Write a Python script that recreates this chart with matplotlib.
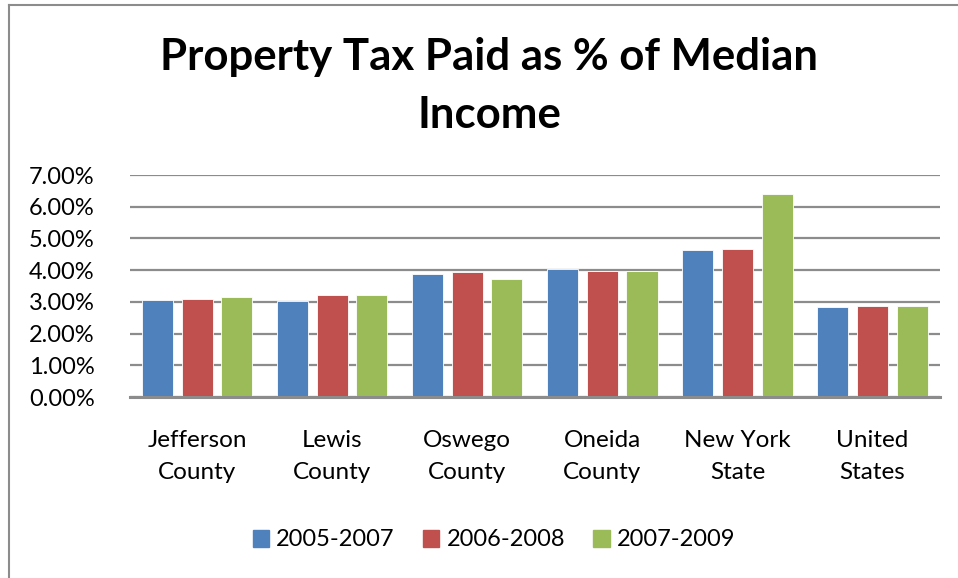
import matplotlib
matplotlib.use("Agg")
import matplotlib.pyplot as plt
import numpy as np
from matplotlib.lines import Line2D
from matplotlib.ticker import FuncFormatter, MultipleLocator

categories = ["Jefferson\nCounty", "Lewis\nCounty", "Oswego\nCounty", "Oneida\nCounty", "New York\nState", "United\nStates"]
series_names = ["2005-2007", "2006-2008", "2007-2009"]
v_2005_2007 = [3.06, 3.04, 3.89, 4.04, 4.63, 2.84]
v_2006_2008 = [3.09, 3.21, 3.95, 3.96, 4.67, 2.87]
v_2007_2009 = [3.14, 3.22, 3.73, 3.97, 6.40, 2.87]
colors = ["#4F81BD", "#C0504D", "#9BBB59"]

plt.rcParams['font.family'] = ['Lato', 'DejaVu Sans']

fig = plt.figure(figsize=(9.58, 5.78), dpi=100)
ax = fig.add_axes([129.5/958, 1 - 397/578, (940 - 129.5)/958, (397 - 175)/578])

x = np.arange(len(categories))
bw = 0.23
step = 0.294
for i, (vals, c, name) in enumerate(zip([v_2005_2007, v_2006_2008, v_2007_2009], colors, series_names)):
    ax.bar(x + (i - 1) * step, vals, width=bw, color=c, label=name, zorder=3,
           edgecolor="#ffffff", linewidth=0.6)

ax.set_xlim(-0.5, len(categories) - 0.5)
ax.set_ylim(0, 7)
ax.yaxis.set_major_locator(MultipleLocator(1))
ax.yaxis.set_major_formatter(FuncFormatter(lambda v, p: f"{v:.2f}%"))
ax.grid(axis='y', color="#8c8c8c", linewidth=1.6, zorder=0)
for s in ["top", "right", "left"]:
    ax.spines[s].set_visible(False)
ax.spines["bottom"].set_color("#8c8c8c")
ax.spines["bottom"].set_linewidth(2.2)
ax.spines["bottom"].set_zorder(4)
ax.tick_params(axis='both', length=0)
ax.tick_params(axis='y', pad=25, labelsize=17)
ax.tick_params(axis='x', pad=24, labelsize=17.5)
ax.set_xticks(x)
ax.set_xticklabels(categories, linespacing=1.6)

fig.text(489 / 958, 1 - 57 / 578, "Property Tax Paid as % of Median", ha='center', va='center',
         fontsize=31.5, fontweight='bold')
fig.text(489 / 958, 1 - 115 / 578, "Income", ha='center', va='center',
         fontsize=31.5, fontweight='bold')

handles = [plt.Rectangle((0, 0), 1, 1, color=c) for c in colors]
fig.legend(handles, series_names, loc='center', bbox_to_anchor=(494 / 958, 1 - 540 / 578),
           ncol=3, frameon=False, fontsize=17, handlelength=0.7, handleheight=0.7,
           handletextpad=0.3, columnspacing=1.2)

# chart border (left and top)
fig.add_artist(Line2D([9 / 958, 9 / 958], [0, 1 - 4.5 / 578], transform=fig.transFigure, color="#8c8c8c", linewidth=1.5))
fig.add_artist(Line2D([9 / 958, 1], [1 - 4.5 / 578, 1 - 4.5 / 578], transform=fig.transFigure, color="#8c8c8c", linewidth=1.5))

fig.savefig("out.png", dpi=100)
